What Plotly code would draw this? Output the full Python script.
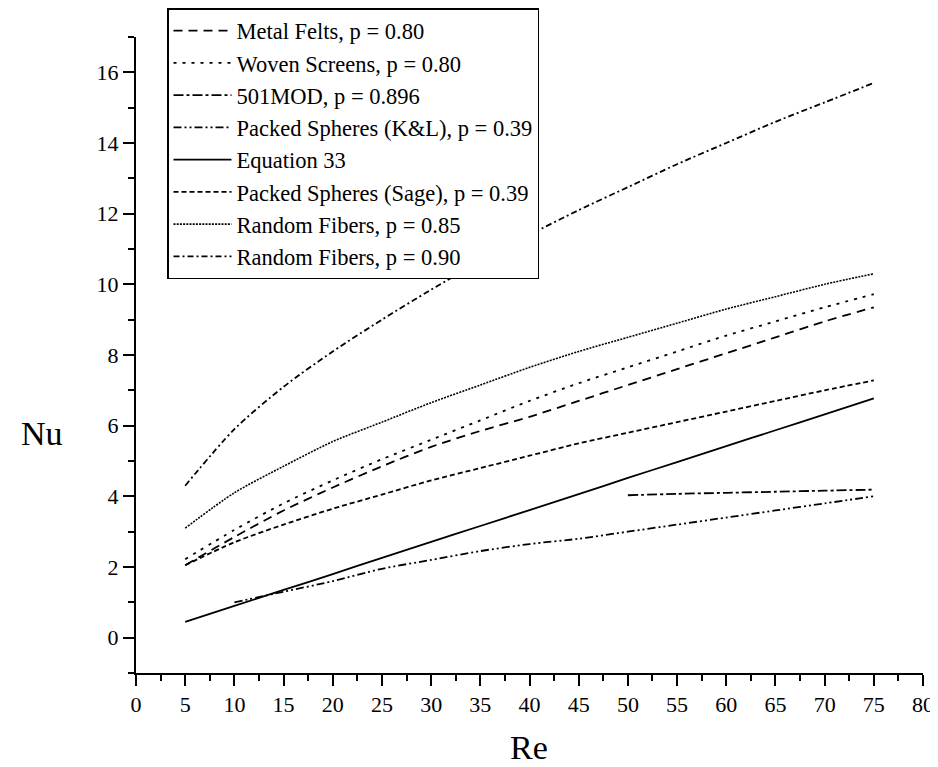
import plotly.graph_objects as go

re_main = [5, 10, 15, 20, 25, 30, 35, 40, 45, 50, 55, 60, 65, 70, 75]

metal_felts = [2.05, 2.85, 3.6, 4.25, 4.85, 5.4, 5.85, 6.25, 6.7, 7.15, 7.6, 8.05, 8.5, 8.95, 9.35]
woven_screens = [2.22, 3.05, 3.8, 4.45, 5.05, 5.6, 6.15, 6.7, 7.2, 7.65, 8.1, 8.55, 8.95, 9.35, 9.72]
eq33 = [0.45, 0.9, 1.35, 1.8, 2.26, 2.71, 3.16, 3.61, 4.06, 4.52, 4.97, 5.42, 5.87, 6.32, 6.77]
sage = [2.05, 2.7, 3.2, 3.65, 4.05, 4.45, 4.8, 5.15, 5.5, 5.8, 6.1, 6.4, 6.7, 7.0, 7.28]
rf085 = [3.1, 4.1, 4.85, 5.55, 6.1, 6.65, 7.15, 7.65, 8.1, 8.5, 8.9, 9.3, 9.65, 10.0, 10.3]
rf090 = [4.3, 5.9, 7.1, 8.1, 9.0, 9.85, 10.65, 11.4, 12.1, 12.75, 13.4, 14.0, 14.6, 15.15, 15.7]

re_kl = [10, 15, 20, 25, 30, 35, 40, 45, 50, 55, 60, 65, 70, 75]
kl = [1.0, 1.3, 1.6, 1.95, 2.2, 2.45, 2.65, 2.8, 3.0, 3.2, 3.4, 3.6, 3.8, 4.0]

re_501 = [50, 55, 60, 65, 70, 75]
mod501 = [4.03, 4.07, 4.10, 4.13, 4.16, 4.19]

FONT = "Liberation Serif, Times New Roman, serif"
fig = go.Figure()

def add(name, x, y, dash, width=1.8):
    fig.add_trace(go.Scatter(x=x, y=y, mode="lines", name=name,
                             line=dict(color="black", width=width, dash=dash,
                                       shape="spline", smoothing=0.8)))

add("Metal Felts, p = 0.80", re_main, metal_felts, "9px,6px")
add("Woven Screens, p = 0.80", re_main, woven_screens, "3px,6px")
add("501MOD, p = 0.896", re_501, mod501, "10px,3px,3px,3px")
add("Packed Spheres (K&L), p = 0.39", re_kl, kl, "8px,3px,2px,3px,2px,3px")
add("Equation 33", re_main, eq33, "solid")
add("Packed Spheres (Sage), p = 0.39", re_main, sage, "5px,3px")
add("Random Fibers, p = 0.85", re_main, rf085, "2px,1.2px", 1.6)
add("Random Fibers, p = 0.90", re_main, rf090, "6px,3px,2px,3px")

axis_common = dict(showline=True, linecolor="black", linewidth=2, ticks="outside",
                   tickwidth=2, ticklen=11, tickcolor="black", showgrid=False,
                   zeroline=False, tickfont=dict(family=FONT, size=22, color="black"),
                   mirror=False, automargin=False)

# figure coordinates (page adds an 8px body margin)
W, HT = 930, 759
LEFT, RIGHT, TOP, BOT = 128, 915, 29, 665
PW = RIGHT - LEFT
fig.update_xaxes(range=[0, 80], dtick=5, tick0=0,
                 minor=dict(dtick=2.5, ticks="outside", ticklen=6, tickwidth=2, tickcolor="black"),
                 **axis_common)
fig.update_yaxes(range=[-1, 17], dtick=2, tick0=0, domain=[0, (BOT - TOP) / BOT],
                 minor=dict(dtick=1, ticks="outside", ticklen=6, tickwidth=2, tickcolor="black"),
                 **axis_common)

fig.add_annotation(text="Nu", xref="paper", yref="paper",
                   x=(34 - LEFT) / PW, y=(BOT - 425) / BOT,
                   xanchor="center", yanchor="middle", showarrow=False,
                   font=dict(family=FONT, size=34, color="black"))
fig.add_annotation(text="Re", xref="paper", yref="paper",
                   x=(521 - LEFT) / PW, y=(BOT - 739) / BOT,
                   xanchor="center", yanchor="middle", showarrow=False,
                   font=dict(family=FONT, size=34, color="black"))

fig.update_layout(
    width=W, height=HT,
    margin=dict(l=LEFT, r=W - RIGHT, t=0, b=HT - BOT, autoexpand=False),
    paper_bgcolor="white", plot_bgcolor="white",
    showlegend=True,
    legend=dict(x=(159 - LEFT) / PW, y=1, xanchor="left", yanchor="top",
                bgcolor="white", bordercolor="black", borderwidth=1.5,
                font=dict(family=FONT, size=22.5, color="black"),
                tracegroupgap=0, itemwidth=58),
    font=dict(family=FONT, color="black"),
)

fig.write_html("out.html")
